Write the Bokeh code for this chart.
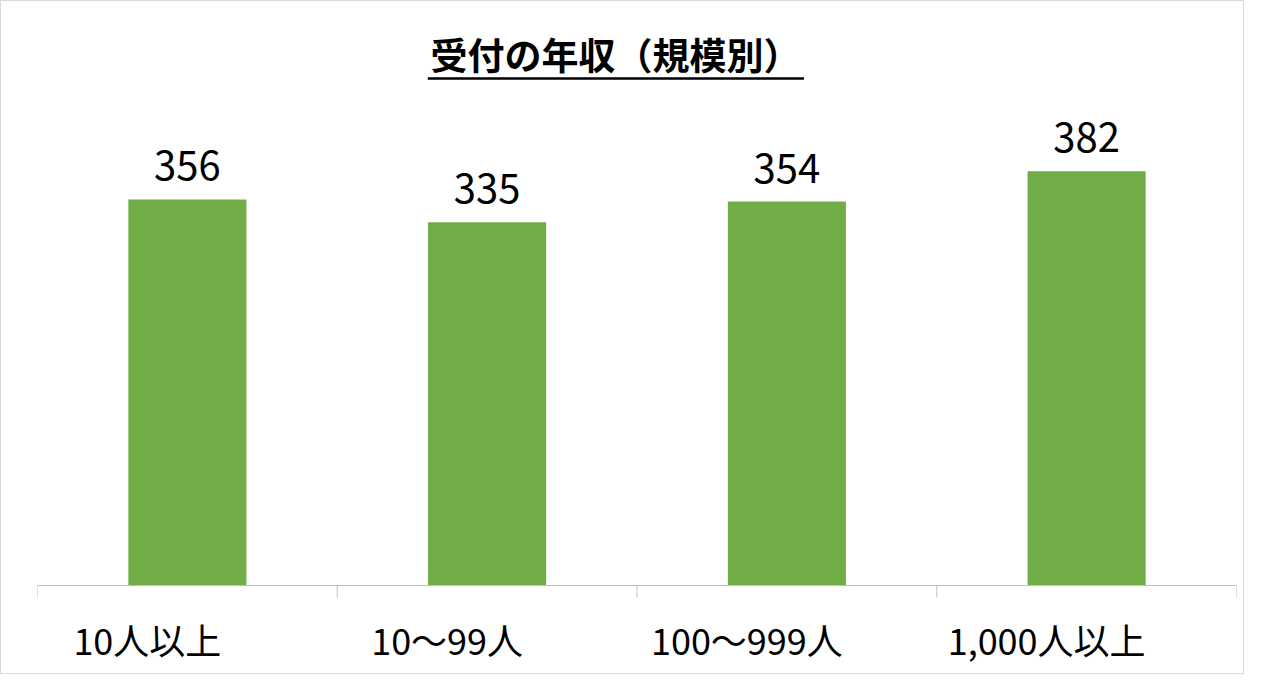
from bokeh.core.properties import value
from bokeh.embed import file_html
from bokeh.models import ColumnDataSource, Label, LabelSet, Range1d, Span
from bokeh.plotting import figure
from bokeh.resources import INLINE

# data
title = "受付の年収（規模別）"
categories = ["10人以上", "10〜99人", "100〜999人", "1,000人以上"]
salary = [356, 335, 354, 382]

JP_FONT = value("Noto Sans CJK JP")
BAR_COLOR = "#70AD47"
AXIS_COLOR = "#BFBFBF"

PX = 1.0846          # pixels per unit on the value axis
ZERO_PX = 584        # where the category axis sits
H = 674

source = ColumnDataSource(dict(
    cat=categories,
    val=salary,
    txt=[str(v) for v in salary],
    base=[-64.5] * len(categories),
))

p = figure(x_range=categories,
           y_range=Range1d(-(H - ZERO_PX) / PX, ZERO_PX / PX),
           width=1244, height=H, output_backend="svg",
           toolbar_location=None, tools="",
           min_border_left=36, min_border_right=9,
           min_border_top=0, min_border_bottom=0)
p.outline_line_color = None
p.background_fill_color = "white"
p.border_fill_color = "white"
p.xgrid.visible = False
p.ygrid.visible = False
p.xaxis.visible = False
p.yaxis.visible = False
p.styles = {"border": "1px solid #D9D9D9"}

p.vbar(x="cat", top="val", width=0.394, source=source,
       fill_color=BAR_COLOR, line_color=None)

# category axis: base line plus ticks on the category boundaries
p.add_layout(Span(location=0, dimension="width",
                  line_color=AXIS_COLOR, line_width=1))
bounds = list(range(len(categories) + 1))
p.segment(x0=bounds, y0=[0] * len(bounds), x1=bounds, y1=[-12 / PX] * len(bounds),
          line_color=AXIS_COLOR, line_width=1)

p.add_layout(LabelSet(x="cat", y="val", text="txt", source=source,
                      y_offset=19, text_align="center",
                      text_baseline="alphabetic", text_font=JP_FONT,
                      text_font_size="40px", text_color="black"))

p.add_layout(LabelSet(x="cat", y="base", text="cat", source=source,
                      x_offset=-40, text_align="center",
                      text_baseline="alphabetic", text_font=JP_FONT,
                      text_font_size="36px", text_color="black"))

p.add_layout(Label(x=2, y=489.6, x_offset=-21.5, text=title,
                   text_align="center", text_baseline="alphabetic",
                   text_font="Noto Sans CJK JP", text_font_size="37px",
                   text_font_style="bold", text_color="black"))
# underline of the title
p.segment(x0=[1.302], y0=[467.5], x1=[2.557], y1=[467.5],
          line_color="black", line_width=2.5)

open("out.html", "w").write(file_html(p, INLINE))
